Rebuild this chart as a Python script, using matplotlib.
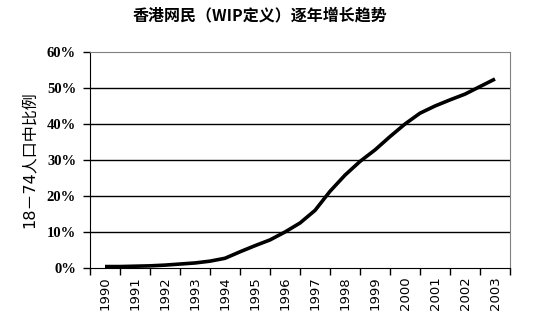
"""Hong Kong internet users (WIP definition), share of population aged 18-74."""
import matplotlib
matplotlib.use("Agg")
import matplotlib.pyplot as plt
import numpy as np

# half-year readings, share of 18-74 population (%)
YEARS = [1990.0, 1990.5, 1991.0, 1991.5, 1992.0, 1992.5, 1993.0, 1993.5,
         1994.0, 1994.5, 1995.0, 1995.5, 1996.0, 1996.5, 1997.0, 1997.5,
         1998.0, 1998.5, 1999.0, 1999.5, 2000.0, 2000.5, 2001.0, 2001.5,
         2002.0, 2002.5, 2003.0]
SHARE = [0.4, 0.4, 0.5, 0.6, 0.8, 1.1, 1.4, 1.9,
         2.7, 4.5, 6.2, 7.8, 10.0, 12.5, 16.0, 21.3,
         25.8, 29.6, 32.8, 36.5, 40.0, 43.0, 45.0, 46.7,
         48.3, 50.4, 52.5]
YEAR_LABELS = [str(y) for y in range(1990, 2004)]
PCT_TICKS = [0, 10, 20, 30, 40, 50, 60]
PCT_LABELS = [f"{v}%" for v in PCT_TICKS]

CJK = ["DejaVu Sans", "Noto Sans CJK SC"]


def main() -> None:
    fig = plt.figure(figsize=(5.33, 3.31), dpi=100)
    ax = fig.add_axes([90 / 533, 63 / 331, 420 / 533, 216 / 331])

    ax.plot(YEARS, SHARE, color="black", linewidth=2.6,
            solid_joinstyle="round", solid_capstyle="butt")

    ax.set_xlim(1989.5, 2003.5)
    ax.set_ylim(0, 60)

    # category axis: tick marks between years, labels centred on each year
    ax.set_xticks(np.arange(1989.5, 2004.0, 1.0), [""] * 15)
    ax.set_xticks(np.arange(1990, 2004), YEAR_LABELS, minor=True,
                  family="DejaVu Sans", fontsize=9.5, rotation=90)
    ax.tick_params(axis="x", which="major", length=5, width=1, direction="out")
    ax.tick_params(axis="x", which="minor", length=0, pad=6)

    ax.set_yticks(PCT_TICKS, PCT_LABELS, family="Liberation Serif",
                  fontweight="bold", fontsize=10.5)
    ax.tick_params(axis="y", length=5, width=1, direction="out", pad=5)

    for y in PCT_TICKS[1:-1]:
        ax.axhline(y, color="black", linewidth=1.0, zorder=0)

    for side in ("left", "bottom"):
        ax.spines[side].set_color("black")
    for side in ("top", "right"):
        ax.spines[side].set_color("#808080")

    ax.set_ylabel("18－74人口中比例", family=CJK, fontsize=11.5, labelpad=7)

    fig.text(260 / 533, 1 - 15 / 331, "香港网民（WIP定义）逐年增长趋势",
             family=["Noto Sans CJK SC", "DejaVu Sans"], fontsize=11.5,
             fontweight="bold", ha="center", va="center")

    fig.savefig("out.png", dpi=100)


if __name__ == "__main__":
    main()
